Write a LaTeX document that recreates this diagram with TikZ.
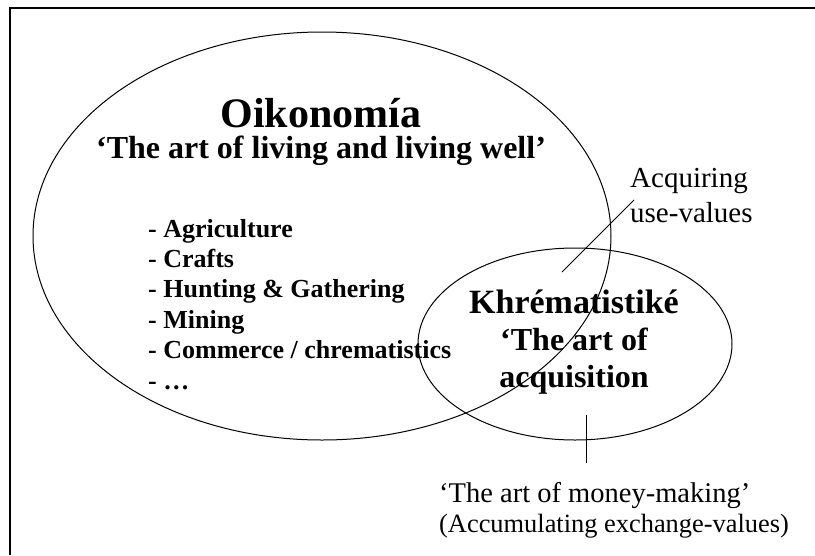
\documentclass[tikz,border=0pt]{standalone}
\usepackage{fontspec}
\setmainfont{Liberation Serif}
\usetikzlibrary{shapes.geometric,positioning}
\definecolor{inkcol}{RGB}{0,0,0}
\tikzset{
  setoval/.style ={draw=inkcol, ellipse, inner sep=0pt, line width=1pt},
  titlelab/.style={font=\fontsize{42}{48}\selectfont\bfseries, anchor=base, inner sep=0pt},
  mottolab/.style={font=\fontsize{32}{37}\selectfont\bfseries, inner sep=0pt, align=center},
  itemlab/.style ={font=\fontsize{26}{30}\selectfont\bfseries, anchor=base west, inner sep=0pt},
  notelab/.style ={font=\fontsize{29}{35}\selectfont, inner sep=0pt, align=left,
                   anchor=base west},
  ptr/.style     ={draw=inkcol, line width=1pt},
}

\begin{document}
\begin{tikzpicture}[x=1pt, y=-1pt,
  framel/.style={draw=inkcol, line width=1.6pt}
]
\useasboundingbox (0,0) rectangle (815,555);

%% Frame (left and top edges only)
\coordinate (fbl) at (10,555);
\coordinate (ftl) at (10,8);
\coordinate (ftr) at (815,8);
\draw[framel] (fbl) -- (ftl) -- (ftr);

%% The two sets
\node[setoval, minimum width=578pt, minimum height=408pt] (oiko)  at (322,236) {};
\node[setoval, minimum width=314pt, minimum height=192pt] (khrem) at (575,344) {};

%% Oikonomia
\node[titlelab] (oikotitle) at (321,127) {Oikonomía};
\node[mottolab, anchor=base] (oikomotto) at (321,158)
  {‘The art of living and living well’};

\foreach \item [count=\i from 0] in {Agriculture, Crafts, Hunting \& Gathering,
    Mining, Commerce / chrematistics, …}
  \node[itemlab] (item\i) at (148,237+30.4*\i) {- \item};

%% Khrematistike (base = last line)
\node[mottolab, anchor=base] (khremtitle) at (574,387)
  {{\fontsize{34}{37}\selectfont Khrématistiké}\\‘The art of\\acquisition};

%% Side notes (base = last line)
\node[notelab] (uselab) at (630,222) {Acquiring\\use-values};
\node[notelab, font=\fontsize{28.5}{30}\selectfont] (monylab) at (439,532)
  {‘The art of money-making’\\
   {\fontsize{26.4}{30}\selectfont (Accumulating exchange-values)}};

%% Pointers
\coordinate (usefoot) at (562,272);
\coordinate (usetip)  at (634,200);
\draw[ptr] (usefoot) -- (usetip);
\coordinate (monytop) at (586,415);
\coordinate (monyfoot) at (586,463);
\draw[ptr] (monytop) -- (monyfoot);

\end{tikzpicture}
\end{document}
